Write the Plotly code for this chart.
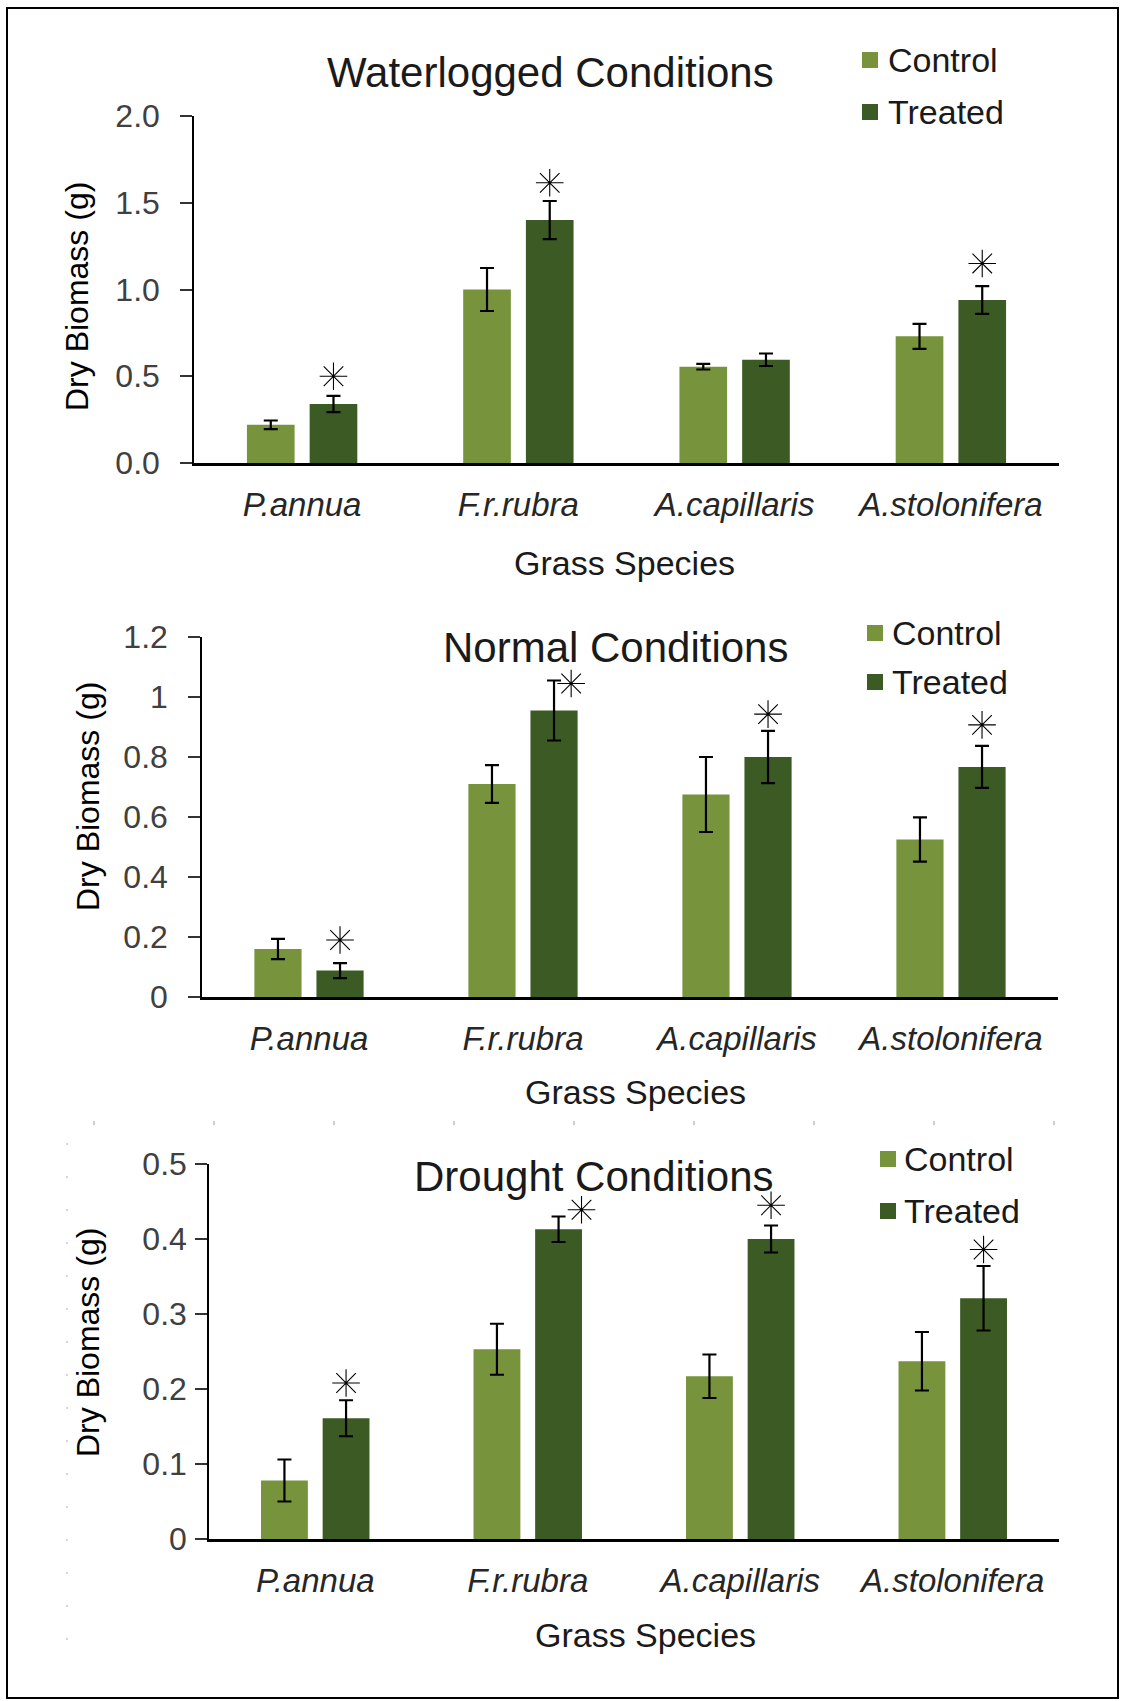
import plotly.graph_objects as go

W, H = 1122, 1701

species = ["P.annua", "F.r.rubra", "A.capillaris", "A.stolonifera"]

# Waterlogged conditions
wl_control = [0.22, 1.00, 0.555, 0.73]
wl_control_err = [0.025, 0.124, 0.016, 0.072]
wl_treated = [0.34, 1.40, 0.595, 0.94]
wl_treated_err = [0.047, 0.11, 0.036, 0.08]
wl_star = [0.50, 1.615, None, 1.15]

# Normal conditions
nm_control = [0.16, 0.71, 0.675, 0.525]
nm_control_err = [0.034, 0.063, 0.125, 0.074]
nm_treated = [0.088, 0.955, 0.80, 0.767]
nm_treated_err = [0.025, 0.10, 0.087, 0.07]
nm_star = [0.19, 1.045, 0.943, 0.907]

# Drought conditions
dr_control = [0.078, 0.253, 0.217, 0.237]
dr_control_err = [0.028, 0.034, 0.029, 0.039]
dr_treated = [0.161, 0.413, 0.40, 0.321]
dr_treated_err = [0.024, 0.017, 0.018, 0.043]
dr_star = [0.208, 0.439, 0.445, 0.386]

C_CONTROL = "#77933C"
C_TREATED = "#3B5A24"
FONT = "Liberation Sans, Arial, sans-serif"
TICK_GRAY = "#404040"
TEXT = "#1a1a1a"
BARGAP = 0.42


def px_x(p):
    return p / W


def px_y(p):
    return 1 - p / H


panels = [
    dict(title="Waterlogged Conditions", control=wl_control, cerr=wl_control_err,
         treated=wl_treated, terr=wl_treated_err, star=wl_star,
         star_dx=[0, 0, 0, 0], yrange=[0, 2.0], dtick=0.5, fmt=".1f",
         x0=194, x1=1059, ytop=116, ybot=463, title_xy=(550, 73),
         leg_sq=870, leg_txt=886, leg_y=(60, 112), ylab_xy=(77, 297),
         xlab_xy=(624, 563), standoff=14),
    dict(title="Normal Conditions", control=nm_control, cerr=nm_control_err,
         treated=nm_treated, terr=nm_treated_err, star=nm_star,
         star_dx=[0, 0.08, 0, 0], yrange=[0, 1.2], dtick=0.2, fmt="",
         x0=202, x1=1058, ytop=637, ybot=997, title_xy=(615, 647),
         leg_sq=875, leg_txt=890, leg_y=(633, 682), ylab_xy=(88, 797),
         xlab_xy=(635, 1092), standoff=14),
    dict(title="Drought Conditions", control=dr_control, cerr=dr_control_err,
         treated=dr_treated, terr=dr_treated_err, star=dr_star,
         star_dx=[0, 0.108, 0, 0], yrange=[0, 0.5], dtick=0.1, fmt="",
         x0=209, x1=1059, ytop=1164, ybot=1539, title_xy=(594, 1176),
         leg_sq=888, leg_txt=902, leg_y=(1159, 1211), ylab_xy=(88, 1343),
         xlab_xy=(645, 1635), standoff=2),
]

fig = go.Figure()
annotations = []
shapes = []
xpos = list(range(len(species)))
treated_shift = (1 - BARGAP) / 4

for i, p in enumerate(panels, start=1):
    sfx = "" if i == 1 else str(i)
    xa, ya = "x" + sfx, "y" + sfx

    fig.add_trace(go.Bar(
        x=xpos, y=p["control"], name="Control", marker_color=C_CONTROL,
        marker_line_width=0, xaxis=xa, yaxis=ya, showlegend=False,
        error_y=dict(type="data", array=p["cerr"], color="black",
                     thickness=2.2, width=7),
    ))
    fig.add_trace(go.Bar(
        x=xpos, y=p["treated"], name="Treated", marker_color=C_TREATED,
        marker_line_width=0, xaxis=xa, yaxis=ya, showlegend=False,
        error_y=dict(type="data", array=p["terr"], color="black",
                     thickness=2.2, width=7),
    ))

    # significance markers above the treated bars
    sx, sy = [], []
    for k, v in enumerate(p["star"]):
        if v is not None:
            sx.append(k + treated_shift + p["star_dx"][k])
            sy.append(v)
    fig.add_trace(go.Scatter(
        x=sx, y=sy, mode="markers", xaxis=xa, yaxis=ya, showlegend=False,
        marker=dict(symbol="asterisk-open", size=23, color="black",
                    line=dict(color="black", width=1.1)),
        cliponaxis=False,
    ))

    fig.update_layout(**{
        "xaxis" + sfx: dict(
            domain=[px_x(p["x0"]), px_x(p["x1"])], anchor=ya,
            range=[-0.5, 3.5], tickvals=xpos, ticktext=species,
            tickfont=dict(family=FONT, size=33, color="#262626", style="italic"),
            showline=True, linecolor="black", linewidth=2.5,
            ticks="", showgrid=False, zeroline=False, automargin=False,
            ticklabelstandoff=11, fixedrange=True,
        ),
        "yaxis" + sfx: dict(
            domain=[px_y(p["ybot"]), px_y(p["ytop"])], anchor=xa,
            range=p["yrange"], dtick=p["dtick"], tick0=0, tickformat=p["fmt"],
            tickfont=dict(family=FONT, size=32, color=TICK_GRAY),
            showline=True, linecolor="black", linewidth=1.5,
            ticks="outside", ticklen=12, tickwidth=1.5, tickcolor="#333333",
            showgrid=False, zeroline=False, automargin=False,
            ticklabelstandoff=p["standoff"],
        ),
    })

    tx, ty = p["title_xy"]
    annotations.append(dict(text=p["title"], x=px_x(tx), y=px_y(ty), xref="paper",
                            yref="paper", showarrow=False, xanchor="center",
                            yanchor="middle",
                            font=dict(family=FONT, size=42, color=TEXT)))
    lx, ly = p["ylab_xy"]
    annotations.append(dict(text="Dry Biomass (g)", x=px_x(lx), y=px_y(ly),
                            xref="paper", yref="paper", showarrow=False,
                            textangle=-90, xanchor="center", yanchor="middle",
                            font=dict(family=FONT, size=32, color="black")))
    gx, gy = p["xlab_xy"]
    annotations.append(dict(text="Grass Species", x=px_x(gx), y=px_y(gy),
                            xref="paper", yref="paper", showarrow=False,
                            xanchor="center", yanchor="middle",
                            font=dict(family=FONT, size=34, color=TEXT)))

    # legend: coloured squares with labels
    for name, color, yy in (("Control", C_CONTROL, p["leg_y"][0]),
                            ("Treated", C_TREATED, p["leg_y"][1])):
        cx = p["leg_sq"]
        shapes.append(dict(type="rect", xref="paper", yref="paper",
                           x0=px_x(cx - 8), x1=px_x(cx + 8),
                           y0=px_y(yy + 8), y1=px_y(yy - 8),
                           fillcolor=color, line=dict(width=0)))
        annotations.append(dict(text=name, x=px_x(p["leg_txt"]), y=px_y(yy),
                                xref="paper", yref="paper", showarrow=False,
                                xanchor="left", yanchor="middle",
                                font=dict(family=FONT, size=34, color=TEXT)))

# outer frame
shapes.append(dict(type="rect", xref="paper", yref="paper",
                   x0=px_x(7), x1=px_x(1118), y0=px_y(1698), y1=px_y(8),
                   line=dict(color="black", width=2), fillcolor="rgba(0,0,0,0)"))
# faint dotted guides left over between the lower panels
shapes.append(dict(type="line", xref="paper", yref="paper",
                   x0=px_x(93), x1=px_x(1056), y0=px_y(1123), y1=px_y(1123),
                   line=dict(color="#cfcfcf", width=4, dash="2px,118px")))
shapes.append(dict(type="line", xref="paper", yref="paper",
                   x0=px_x(67), x1=px_x(67), y0=px_y(1143), y1=px_y(1660),
                   line=dict(color="#d6d6d6", width=2, dash="2px,31px")))

fig.update_layout(
    width=W, height=H, margin=dict(l=0, r=0, t=0, b=0, autoexpand=False),
    paper_bgcolor="white", plot_bgcolor="white",
    barmode="group", bargap=BARGAP, bargroupgap=0.24,
    annotations=annotations, shapes=shapes, showlegend=False,
    font=dict(family=FONT),
)

fig.write_html("out.html", config={"displayModeBar": False})
